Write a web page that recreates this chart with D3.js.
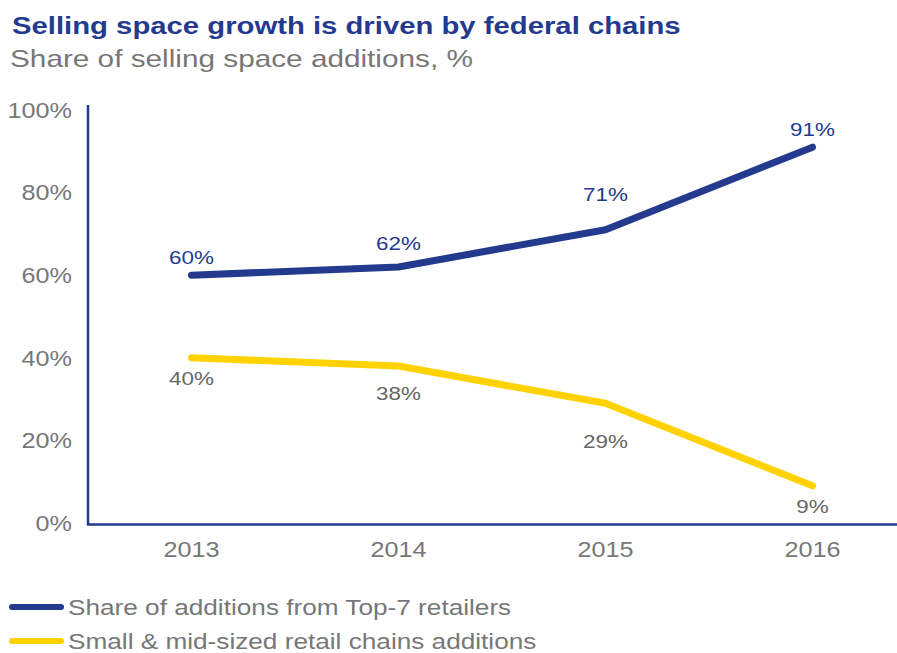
<!DOCTYPE html>
<html>
<head>
<meta charset="utf-8">
<script src="https://cdn.jsdelivr.net/npm/d3@7"></script>
<style>
  html, body { margin: 0; padding: 0; background: #fff; }
  svg { display: block; font-family: "Liberation Sans", Arial, sans-serif; }
</style>
</head>
<body>
<svg id="chart" width="897" height="653"></svg>
<script>
// Chart data
const years = ["2013", "2014", "2015", "2016"];
const top7Share = [60, 62, 71, 91];
const smallMidShare = [40, 38, 29, 9];
const yTicks = [0, 20, 40, 60, 80, 100];
const seriesNames = ["Share of additions from Top-7 retailers", "Small & mid-sized retail chains additions"];

const NAVY = "#233a8f";
const YELLOW = "#ffd200";
const GREY = "#777777";

const svg = d3.select("#chart");

// Text in this layout uses a slightly wide setting: glyphs are stretched horizontally
function wideText(sel, sx) {
  return sel.attr("transform", function () {
    const px = +this.getAttribute("data-x"), py = +this.getAttribute("data-y");
    return `translate(${px},${py}) scale(${sx},1)`;
  });
}

// Title block
wideText(svg.append("text").attr("data-x", 12).attr("data-y", 34)
  .attr("font-size", 24).attr("font-weight", "bold").attr("fill", NAVY)
  .text("Selling space growth is driven by federal chains"), 1.22);
wideText(svg.append("text").attr("data-x", 10).attr("data-y", 67)
  .attr("font-size", 24).attr("fill", GREY)
  .text("Share of selling space additions, %"), 1.24);

// Scales
const x = d3.scaleBand().domain(years).range([88, 916]);
const y = d3.scaleLinear().domain([0, 100]).range([523, 110]);

// Y axis: line plus right-aligned percent labels
svg.append("line").attr("x1", 88).attr("x2", 88).attr("y1", 105).attr("y2", 525)
  .attr("stroke", NAVY).attr("stroke-width", 2.5);
wideText(svg.append("g").selectAll("text").data(yTicks).join("text")
  .attr("data-x", 72).attr("data-y", d => y(d)).attr("dy", "0.35em")
  .attr("text-anchor", "end").attr("font-size", 22).attr("fill", GREY)
  .text(d => d + "%"), 1.145);

// X axis: baseline plus year labels
svg.append("line").attr("x1", 87).attr("x2", 897).attr("y1", 524.5).attr("y2", 524.5)
  .attr("stroke", NAVY).attr("stroke-width", 2.5);
wideText(svg.append("g").selectAll("text").data(years).join("text")
  .attr("data-x", d => x(d) + x.bandwidth() / 2).attr("data-y", 549).attr("dy", "0.35em")
  .attr("text-anchor", "middle").attr("font-size", 22).attr("fill", GREY)
  .text(d => d), 1.145);

const cx = (d, i) => x(years[i]) + x.bandwidth() / 2;
const line = d3.line().x((d, i) => cx(d, i)).y(d => y(d));

// Label clearance from the point, per year
const labelGap = [18, 24, 35, 18];

// Series lines
[[top7Share, NAVY], [smallMidShare, YELLOW]].forEach(([vals, col]) => {
  svg.append("path").datum(vals).attr("d", line)
    .attr("fill", "none").attr("stroke", col).attr("stroke-width", 7)
    .attr("stroke-linecap", "round").attr("stroke-linejoin", "round");
});

// Value labels: above for Top-7, below for small & mid-sized
wideText(svg.append("g").selectAll("text").data(top7Share).join("text")
  .attr("data-x", cx).attr("data-y", (d, i) => y(d) - labelGap[i]).attr("dy", "0.35em")
  .attr("text-anchor", "middle").attr("font-size", 19).attr("fill", NAVY)
  .text(d => d + "%"), 1.18);
wideText(svg.append("g").selectAll("text").data(smallMidShare).join("text")
  .attr("data-x", cx).attr("data-y", (d, i) => y(d) + labelGap[i] + 3).attr("dy", "0.35em")
  .attr("text-anchor", "middle").attr("font-size", 19).attr("fill", "#666")
  .text(d => d + "%"), 1.18);

// Legend
const legend = svg.append("g");
[NAVY, YELLOW].forEach((col, i) => {
  const ly = 607 + i * 34;
  legend.append("line").attr("x1", 12).attr("x2", 61).attr("y1", ly).attr("y2", ly)
    .attr("stroke", col).attr("stroke-width", 6).attr("stroke-linecap", "round");
  wideText(legend.append("text").attr("data-x", 68).attr("data-y", ly).attr("dy", "0.35em")
    .attr("font-size", 22).attr("fill", GREY).text(seriesNames[i]), 1.19);
});
</script>
</body>
</html>
